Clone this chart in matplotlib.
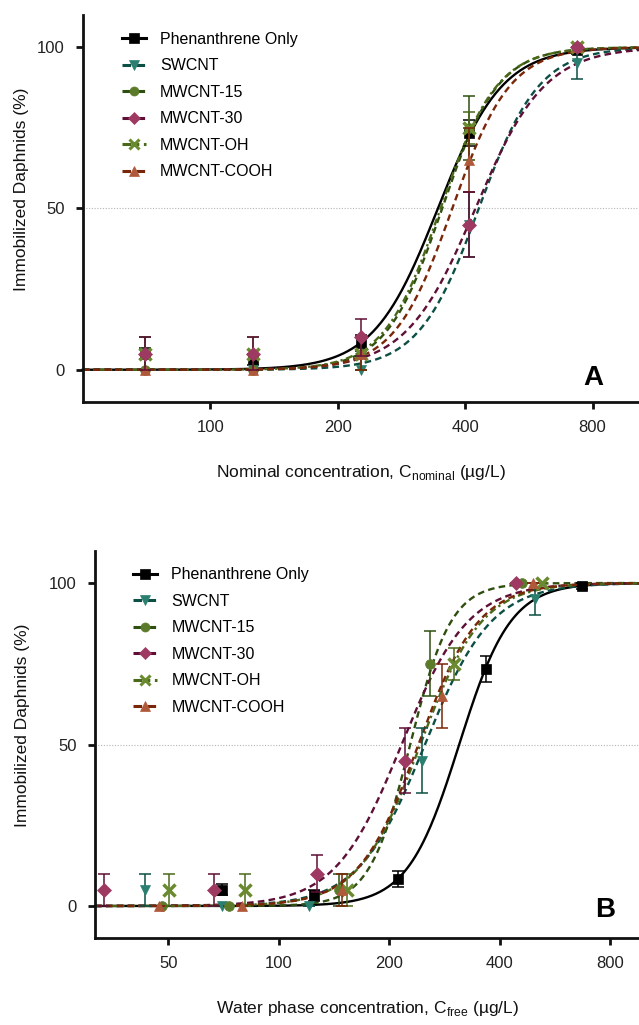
import numpy as np
import matplotlib.pyplot as plt
from matplotlib.lines import Line2D
from matplotlib.ticker import FixedLocator, FixedFormatter, NullLocator

plt.rcParams['font.family'] = ['Liberation Sans', 'DejaVu Sans']
plt.rcParams['mathtext.fontset'] = 'custom'
plt.rcParams['mathtext.rm'] = 'Liberation Sans'

# series
labels = ["Phenanthrene Only", "SWCNT", "MWCNT-15", "MWCNT-30", "MWCNT-OH", "MWCNT-COOH"]

# immobilization (%) and error, same for both panels
resp = [
    [5, 3.3, 8.3, 73.3, 99],
    [5, 0, 0, 45, 95],
    [0, 0, 5, 75, 100],
    [5, 5, 10, 45, 100],
    [5, 5, 5, 75, 100],
    [0, 0, 5, 65, 100],
]
resp_err = [
    [1.7, 1.7, 2.5, 4, 1],
    [5, 0, 0, 10, 5],
    [0, 0, 5, 10, 0],
    [5, 5, 5.8, 10, 0],
    [5, 5, 5, 5, 0],
    [0, 0, 5, 10, 0],
]

# panel A: nominal concentration (ug/L)
dose_nominal = [70, 126, 227, 408, 734]
ec50_nominal = [345, 431, 353, 423, 350, 373]
hill_nominal = [5.7, 6.1, 6.6, 5.3, 6.5, 6.35]

# panel B: free concentration (ug/L)
dose_free = [
    [70, 125, 211, 366, 669],
    [43.3, 70, 121, 246, 499],
    [48, 73, 146, 258, 459],
    [33.5, 66.7, 127, 221, 443],
    [50.4, 81, 153, 300, 522],
    [47.3, 79.6, 149, 279, 493],
]
ec50_free = [310, 250, 228, 216, 243, 240]
hill_free = [6.2, 4.8, 7.8, 4.8, 5.2, 5.3]

ticks_a = [100, 200, 400, 800]
ticks_b = [50, 100, 200, 400, 800]

markers = ['s', 'v', 'o', 'D', 'x', '^']
mcolors = ['#000000', '#2b7f70', '#5b7b2b', '#9e3a62', '#6a8a30', '#b0593a']
lcolors = ['#000000', '#0c4f44', '#2f4f10', '#5e0f35', '#4a6a1a', '#7a2608']
lstyles = ['-', (0, (2.8, 1.8)), (0, (2.8, 1.8)), (0, (2.8, 1.8)),
           (0, (3, 1.5, 1, 1.5)), (0, (2.8, 1.8))]
msizes = [7, 7.5, 7, 7.5, 8, 7.5]
zorders = [3, 4, 5, 8, 6, 7]


def hill(x, ec50, h):
    return 100.0 / (1 + 10 ** ((np.log10(ec50) - np.log10(x)) * h))


fig = plt.figure(figsize=(6.39, 10.25), dpi=100)
ax_a = fig.add_axes([0.1294, 0.6078, 0.8706, 0.3776])
ax_b = fig.add_axes([0.1487, 0.0846, 0.8513, 0.3781])

panels = [
    (ax_a, (50, 1030), ticks_a, [dose_nominal] * 6, ec50_nominal, hill_nominal,
     "Nominal concentration, C$_{\\mathrm{nominal}}$ (\u00b5g/L)", "A", (0.917, 0.062), -0.096),
    (ax_b, (31.6, 957), ticks_b, dose_free, ec50_free, hill_free,
     "Water phase concentration, C$_{\\mathrm{free}}$ (\u00b5g/L)", "B", (0.937, 0.072), -0.12),
]

for ax, xlim, ticks, doses, ec50s, hills, xlabel, letter, lpos, ylab_x in panels:
    ax.set_xscale('log')
    xs = np.logspace(np.log10(xlim[0]), np.log10(xlim[1]), 400)
    for i in range(len(labels)):
        ax.plot(xs, hill(xs, ec50s[i], hills[i]), color=lcolors[i], ls=lstyles[i],
                lw=1.7, zorder=2 + i * 0.1, clip_on=False)
    for i in range(len(labels)):
        ax.errorbar(doses[i], resp[i], yerr=resp_err[i], fmt='none', ecolor=lcolors[i],
                    elinewidth=1.1, capsize=4, capthick=1.1, zorder=zorders[i])
        ax.plot(doses[i], resp[i], ls='none', marker=markers[i], ms=msizes[i],
                mfc=mcolors[i], mec=mcolors[i], mew=2.5 if markers[i] == 'x' else 0.5,
                zorder=zorders[i], clip_on=False)

    ax.axhline(50, color='#b5b5b5', lw=0.8, ls=(0, (1, 1.5)), zorder=1)
    ax.set_xlim(*xlim)
    ax.set_ylim(-10, 110)
    ax.xaxis.set_major_locator(FixedLocator(ticks))
    ax.xaxis.set_major_formatter(FixedFormatter([str(t) for t in ticks]))
    ax.xaxis.set_minor_locator(NullLocator())
    ax.set_yticks([0, 50, 100])
    for s in ['top', 'right']:
        ax.spines[s].set_visible(False)
    for s in ['left', 'bottom']:
        ax.spines[s].set_linewidth(2)
        ax.spines[s].set_color('#111111')
    ax.tick_params(axis='both', direction='out', length=5, width=2, color='#111111',
                   labelsize=12, labelcolor='#222222', pad=8)
    ax.set_xlabel(xlabel, fontsize=12.5, color='#111111', labelpad=20)
    ax.set_ylabel("Immobilized Daphnids (%)", fontsize=12.5, color='#111111')
    ax.yaxis.set_label_coords(ylab_x, 0.55)
    ax.text(lpos[0], lpos[1], letter, transform=ax.transAxes, fontsize=20,
            fontweight='bold', ha='center', va='center')

    handles = [Line2D([], [], color=lcolors[i], ls=lstyles[i], lw=2.2, marker=markers[i],
                      ms=6.5, mfc=mcolors[i], mec=mcolors[i],
                      mew=2.2 if markers[i] == 'x' else 0.5) for i in range(len(labels))]
    ax.legend(handles, labels, loc='upper left', bbox_to_anchor=(0.07, 0.957),
              frameon=False, fontsize=11.5, handlelength=1.5, handletextpad=0.9,
              labelspacing=0.72, borderpad=0, borderaxespad=0)

fig.savefig("out.png", dpi=100)
